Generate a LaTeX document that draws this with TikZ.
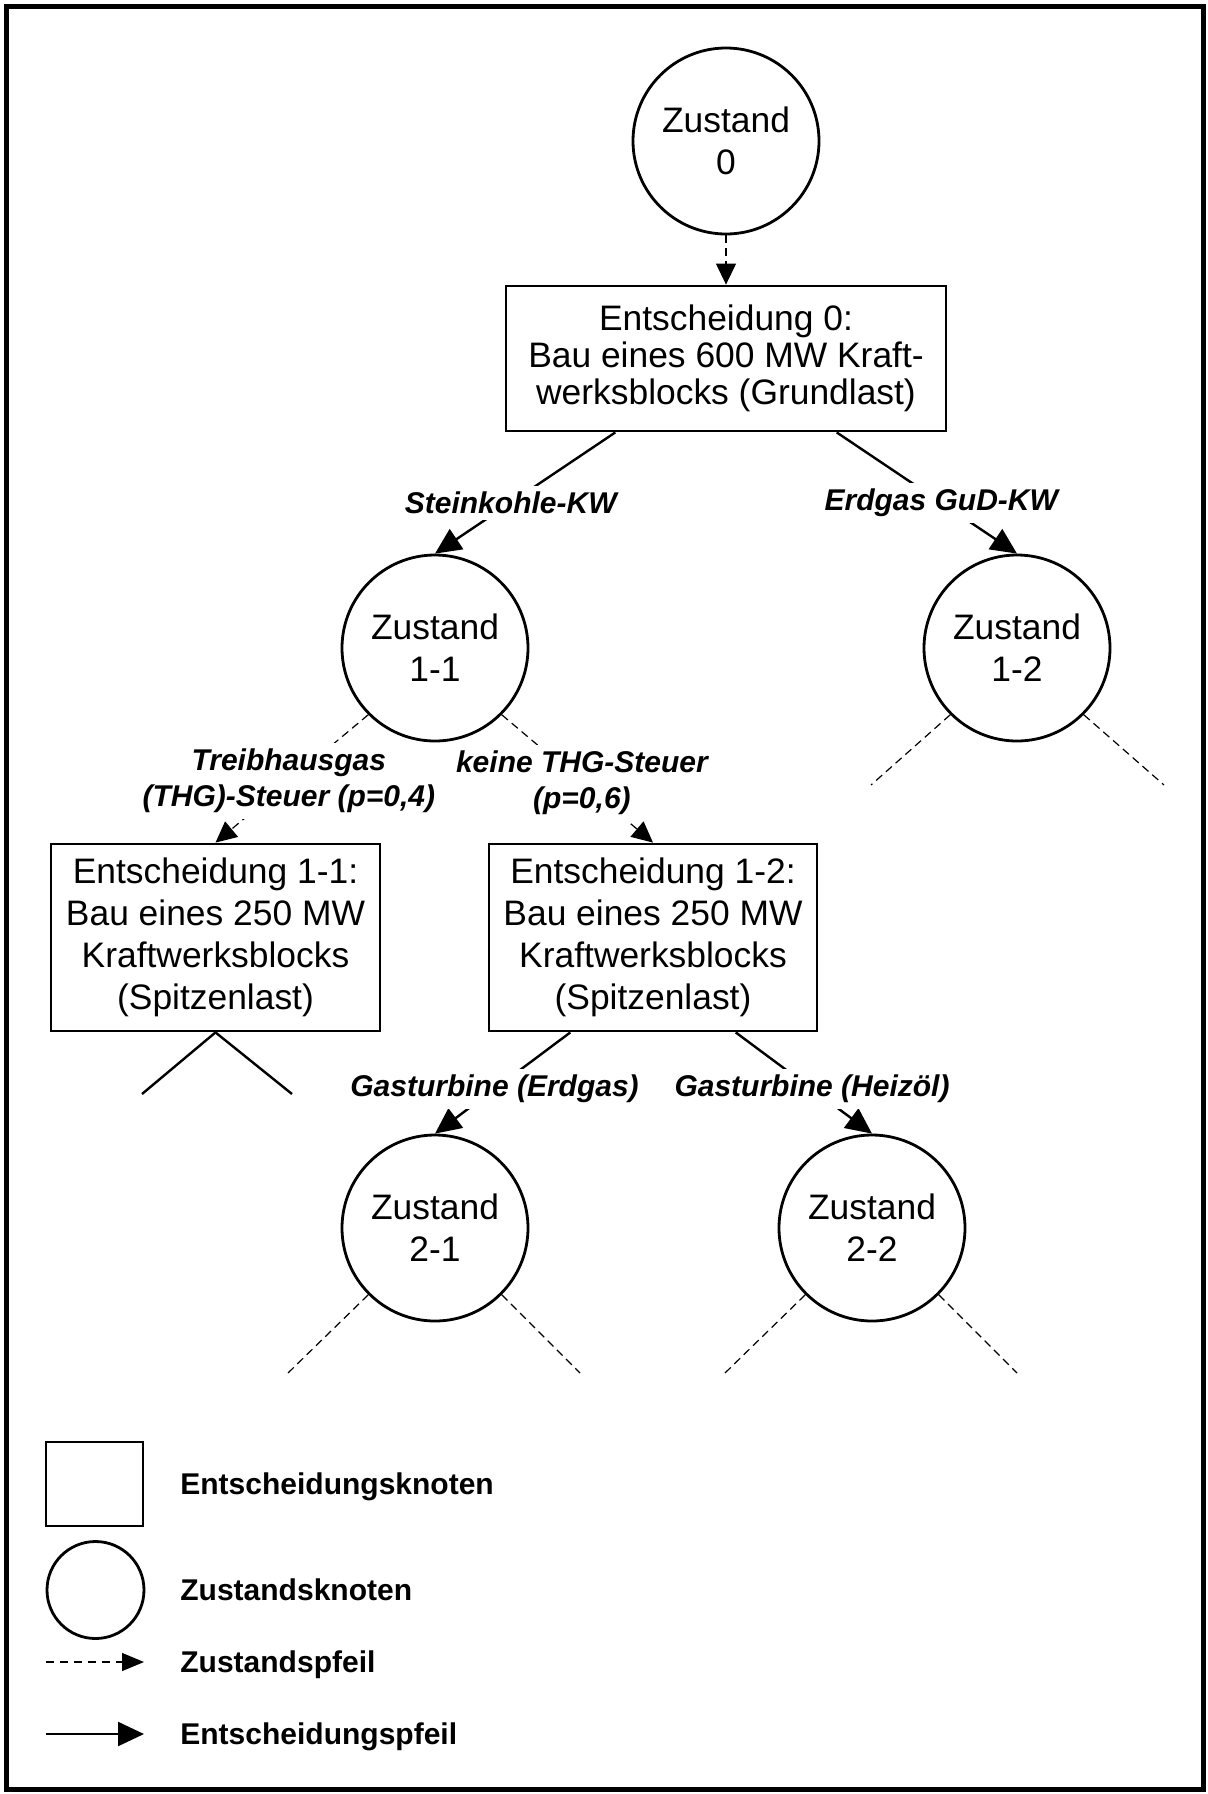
\documentclass[tikz,border=0pt]{standalone}
\usepackage{fontspec}
\setmainfont{Liberation Sans}
\usetikzlibrary{arrows.meta,calc}

\begin{document}
\begin{tikzpicture}[x=0.5pt,y=-0.5pt,
  zustand/.style={circle,draw,line width=1.4pt,minimum size=93pt,inner sep=0pt,
    align=center,font=\fontsize{17.7}{21}\selectfont},
  entscheidung/.style={rectangle,draw,line width=1.4pt,inner sep=0pt,
    align=center,font=\fontsize{17.7}{21}\selectfont},
  dpfeil/.style={line width=0.6pt,dash pattern=on 4pt off 2.5pt,
    -{Triangle[length=10.5pt,width=10pt]}},
  epfeil/.style={line width=1.2pt,-{Triangle[length=13pt,width=12pt]}},
  zlinie/.style={line width=0.6pt,dash pattern=on 4pt off 2.5pt},
  elinie/.style={line width=1.2pt},
  pfeiltext/.style={fill=white,inner sep=3pt,align=center,
    font=\fontsize{15}{18}\selectfont\bfseries\itshape},
  legtext/.style={anchor=base west,inner sep=0pt,
    font=\fontsize{15}{18}\selectfont\bfseries}]

% page and frame
\useasboundingbox (0,0) rectangle (1208,1794);
\draw[line width=2.5pt] (6,6) rectangle (1203,1789);

% tree nodes
\node[zustand] (z0) at (726,141) {Zustand\\0};
\node[entscheidung,minimum width=220pt,minimum height=72.5pt,
  font=\fontsize{17.7}{18.5}\selectfont] (e0) at (726,358.5)
  {Entscheidung 0:\\Bau eines 600 MW Kraft-\\werksblocks (Grundlast)};
\node[zustand] (z11) at (435,648) {Zustand\\1-1};
\node[zustand] (z12) at (1017,648) {Zustand\\1-2};
\node[entscheidung,minimum width=164.5pt,minimum height=93.5pt] (e11) at (215.5,937.5)
  {Entscheidung 1-1:\\Bau eines 250 MW\\Kraftwerksblocks\\(Spitzenlast)};
\node[entscheidung,minimum width=164pt,minimum height=93.5pt] (e12) at (653,937.5)
  {Entscheidung 1-2:\\Bau eines 250 MW\\Kraftwerksblocks\\(Spitzenlast)};
\node[zustand] (z21) at (435,1228) {Zustand\\2-1};
\node[zustand] (z22) at (872,1228) {Zustand\\2-2};

% open ends of the branches
\coordinate (z12a) at (871,785);
\coordinate (z12b) at (1164,785);
\coordinate (e11a) at (142,1094);
\coordinate (e11b) at (292,1094);
\coordinate (z21a) at (288,1373);
\coordinate (z21b) at (580,1373);
\coordinate (z22a) at (725,1373);
\coordinate (z22b) at (1017,1373);

% state arrow into the first decision
\draw[dpfeil] (z0.south) -- (e0.north);

% decision 0
\draw[epfeil] ($(e0.south)!0.5!(e0.south west)$) --
  node[pfeiltext,pos=0.58] {Steinkohle-KW} (z11.north);
\draw[epfeil] ($(e0.south)!0.5!(e0.south east)$) --
  node[pfeiltext,pos=0.58] {Erdgas GuD-KW} (z12.north);

% state 1-1
\draw[dpfeil] (z11.south west) --
  node[pfeiltext,pos=0.52] {Treibhausgas\\(THG)-Steuer (p=0,4)} (e11.north);
\draw[dpfeil] (z11.south east) --
  node[pfeiltext,pos=0.53] {keine THG-Steuer\\(p=0,6)} (e12.north);

% state 1-2
\draw[zlinie] (z12.south west) -- (z12a);
\draw[zlinie] (z12.south east) -- (z12b);

% decision 1-1
\draw[elinie] (e11.south) -- (e11a);
\draw[elinie] (e11.south) -- (e11b);

% decision 1-2
\draw[epfeil] ($(e12.south)!0.5!(e12.south west)$) --
  node[pfeiltext,pos=0.56] {Gasturbine (Erdgas)} (z21.north);
\draw[epfeil] ($(e12.south)!0.5!(e12.south east)$) --
  node[pfeiltext,pos=0.56] {Gasturbine (Heizöl)} (z22.north);

% states 2-1 and 2-2
\draw[zlinie] (z21.south west) -- (z21a);
\draw[zlinie] (z21.south east) -- (z21b);
\draw[zlinie] (z22.south west) -- (z22a);
\draw[zlinie] (z22.south east) -- (z22b);

% legend
\node[draw,line width=1.4pt,minimum width=48.5pt,minimum height=42pt,inner sep=0pt]
  (legE) at (94.5,1484) {};
\node[zustand,minimum size=48.5pt] (legZ) at (95.5,1590) {};
\coordinate (legZa) at (46,1662);
\coordinate (legZb) at (144,1662);
\coordinate (legEa) at (46,1734);
\coordinate (legEb) at (144,1734);
\draw[line width=0.6pt,dash pattern=on 4pt off 3pt,
  -{Triangle[length=11pt,width=9pt]}] (legZa) -- (legZb);
\draw[epfeil] (legEa) -- (legEb);
\node[legtext] (legEt) at (180,1494.5) {Entscheidungsknoten};
\node[legtext] (legZt) at (180,1600.5) {Zustandsknoten};
\node[legtext] (legZpt) at (180,1672.5) {Zustandspfeil};
\node[legtext] (legEpt) at (180,1744.5) {Entscheidungspfeil};
\end{tikzpicture}
\end{document}
